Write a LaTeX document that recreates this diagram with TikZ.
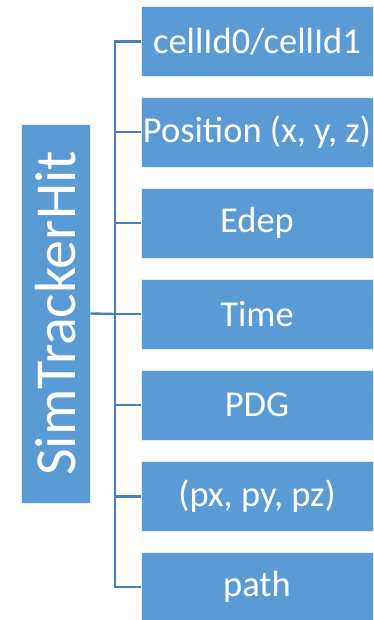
\documentclass[tikz,border=0pt]{standalone}
\usepackage{fontspec}
\setmainfont{Carlito}
\definecolor{boxblue}{HTML}{5B9BD5}
\definecolor{linkblue}{HTML}{4A7EBB}
\tikzset{
  field/.style = {
    fill=boxblue, draw=white!85!boxblue, line width=0.6pt,
    text=white, font=\fontsize{36.5}{40}\selectfont,
    minimum width=232pt, minimum height=70pt, inner sep=0pt
  },
  bracket/.style = {draw=linkblue, line width=2.4pt}
}

\begin{document}
\begin{tikzpicture}[x=1pt,y=1pt]
  \useasboundingbox (0,0) rectangle (373,-620);
  \node[field,minimum width=69pt,minimum height=379pt] (hit) at (55.5,-313.5)
    {\rotatebox{90}{\fontsize{58}{62}\selectfont SimTrackerHit}};
  \node[field] (cellid) at (257,-41.5) {cellId0/cellId1};
  \node[field] (pos)    at (257,-132)  {Position (x, y, z)};
  \node[field] (edep)   at (257,-223)  {Edep};
  \node[field] (time)   at (257,-314)  {Time};
  \node[field] (pdg)    at (257,-405)  {PDG};
  \node[field] (mom)    at (257,-496.5){(px, py, pz)};
  \node[field] (path)   at (257,-587)  {path};
  \coordinate (spine) at (115,-314);
  % tree connectors
  \draw[bracket] (hit.east) -- (spine);
  \draw[bracket] (cellid.west) -| (spine) |- (path.west);
  \draw[bracket] (pos.west)  -- (pos.west -| spine);
  \draw[bracket] (edep.west) -- (edep.west -| spine);
  \draw[bracket] (time.west) -- (spine);
  \draw[bracket] (pdg.west)  -- (pdg.west -| spine);
  \draw[bracket] (mom.west)  -- (mom.west -| spine);
\end{tikzpicture}
\end{document}
